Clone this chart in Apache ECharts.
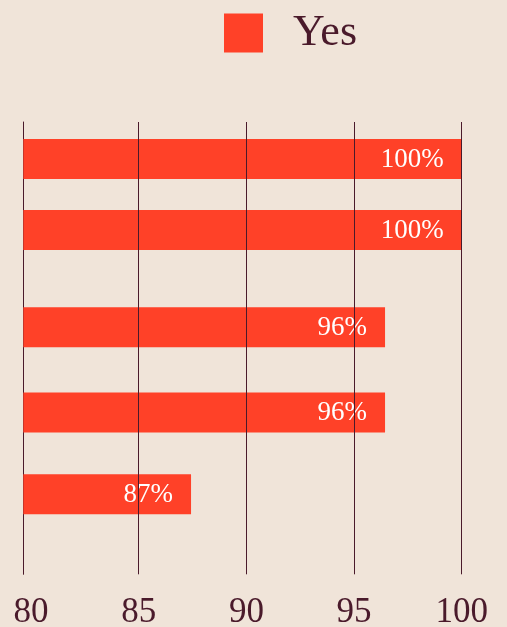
<!DOCTYPE html>
<html>
<head>
<meta charset="utf-8">
<script src="https://cdn.jsdelivr.net/npm/echarts@6/dist/echarts.min.js"></script>
<style>
html,body{margin:0;padding:0;background:#f0e4d9;}
#c{width:507px;height:627px;}
</style>
</head>
<body>
<div id="c"></div>
<script>
// Data
var seriesName = 'Yes';
var values = [100, 100, 96.44, 96.44, 87.43];
var rowPos = [8.2, 23.9, 45.4, 64.2, 82.3];
var tickValues = [80, 85, 90, 95, 100];
var axisMin = 79.64;
var axisMax = 100;

var ink = '#4a1a2b';
var red = '#ff4128';
var font = '"Liberation Serif", serif';
var barHeight = 40;

var chart = echarts.init(document.getElementById('c'));
chart.setOption({
  backgroundColor: '#f0e4d9',
  animation: false,
  legend: {
    left: 224, top: 11, padding: 0,
    itemWidth: 39, itemHeight: 39,
    icon: 'rect',
    data: [seriesName],
    textStyle: { color: ink, fontFamily: font, fontSize: 44, lineHeight: 39, padding: [0, 0, 0, 25] }
  },
  grid: { left: 23.3, right: 45.3, top: 122, bottom: 52.7, containLabel: false, outerBoundsMode: 'none' },
  xAxis: {
    type: 'value', min: axisMin, max: axisMax,
    splitLine: { show: false },
    axisLine: { show: false },
    axisTick: { show: false },
    axisLabel: {
      color: ink, fontFamily: font, fontSize: 35, margin: 21,
      formatter: function (v) { return tickValues.indexOf(v) >= 0 ? String(v) : ''; }
    }
  },
  yAxis: {
    type: 'value', min: 0, max: 100, inverse: true,
    axisLine: { show: true, onZero: false, lineStyle: { color: ink, width: 1 } },
    axisTick: { show: false },
    axisLabel: { show: false },
    splitLine: { show: false }
  },
  series: [{
    name: seriesName,
    type: 'custom',
    itemStyle: { color: red },
    data: values.map(function (v, i) { return [v, rowPos[i]]; }),
    encode: { x: 0, y: 1 },
    renderItem: function (params, api) {
      var v = api.value(0), p = api.value(1);
      var end = api.coord([v, p]);
      var start = api.coord([axisMin, p]);
      return {
        type: 'group',
        children: [{
          type: 'rect',
          shape: { x: start[0], y: end[1] - barHeight / 2, width: end[0] - start[0], height: barHeight },
          style: { fill: red }
        }, {
          type: 'text',
          x: end[0] - 18, y: end[1] + 1,
          style: {
            text: Math.round(v) + '%',
            fill: '#fff', font: '27px ' + font,
            align: 'right', verticalAlign: 'middle'
          }
        }]
      };
    },
    markLine: {
      silent: true, symbol: 'none',
      label: { show: false },
      lineStyle: { type: 'solid', color: ink, width: 1 },
      data: tickValues.filter(function (v) { return v > axisMin + 1; }).map(function (v) { return { xAxis: v }; })
    }
  }]
});
</script>
</body>
</html>
